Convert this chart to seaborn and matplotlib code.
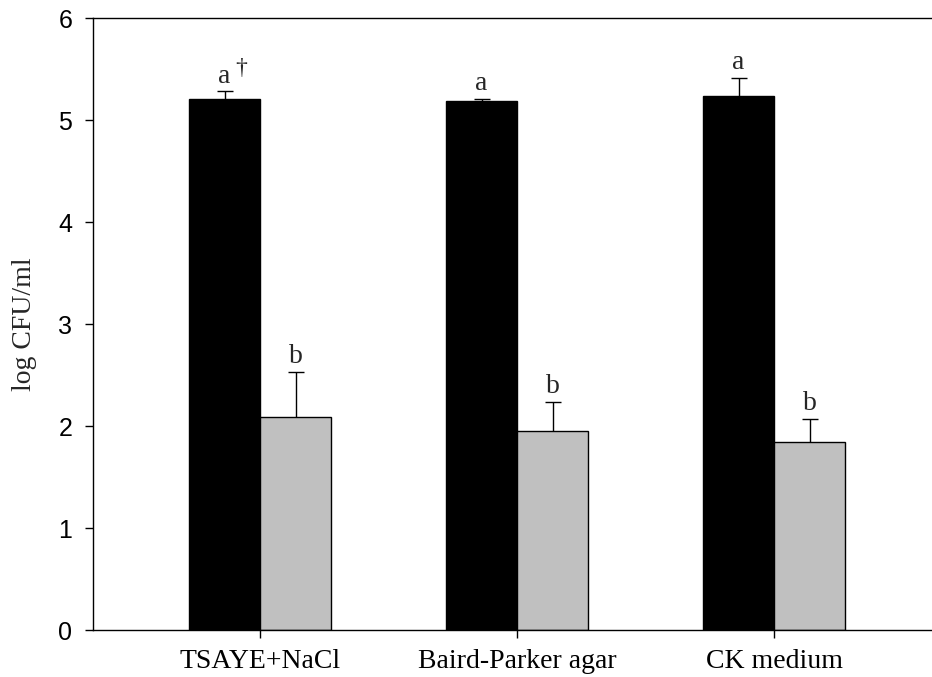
import pandas as pd
import seaborn as sns
import matplotlib.pyplot as plt

# values
media = ["TSAYE+NaCl", "Baird-Parker agar", "CK medium"]
groups = ["Before", "After"]
before_mean = [5.21, 5.19, 5.235]
before_err = [0.07, 0.02, 0.175]
after_mean = [2.09, 1.95, 1.84]
after_err = [0.44, 0.29, 0.23]
letters_before = ["a", "a", "a"]
letters_after = ["b", "b", "b"]

df = pd.DataFrame({
    "medium": media * 2,
    "group": [groups[0]] * 3 + [groups[1]] * 3,
    "value": before_mean + after_mean,
    "err": before_err + after_err,
    "letter": letters_before + letters_after,
})

sns.set_style("ticks")
plt.rcParams["font.family"] = ["Liberation Serif", "DejaVu Serif"]

fig = plt.figure(figsize=(9.32, 6.77), dpi=100)
ax = fig.add_axes([93 / 932, 47 / 677, 861 / 932, 612 / 677])

sns.barplot(data=df, x="medium", y="value", hue="group", order=media,
            hue_order=groups, palette=["#000000", "#c0c0c0"], width=0.553,
            errorbar=None, edgecolor="black", linewidth=1.0, legend=False, ax=ax)

# upward-only error bars and significance letters, taken from the drawn bars
for container, grp in zip(ax.containers, groups):
    sub = df[df["group"] == grp].set_index("medium").loc[media]
    for bar, (_, row) in zip(container, sub.iterrows()):
        cx = bar.get_x() + bar.get_width() / 2
        top = bar.get_height()
        eb = ax.errorbar(cx, top, yerr=[[0], [row["err"]]], fmt="none",
                         ecolor="black", elinewidth=1.0, capsize=6,
                         capthick=1.0)
        eb.lines[1][0].set_visible(False)  # drop the lower cap
        ax.annotate(row["letter"], (cx, top + row["err"]), xytext=(0, 2),
                    textcoords="offset points", ha="center", va="bottom",
                    fontsize=20)

# dagger next to the first letter
first = ax.containers[0][0]
ax.annotate("\u2020", (first.get_x() + first.get_width() / 2,
                       first.get_height() + before_err[0]),
            xytext=(12, 9), textcoords="offset points", ha="center",
            va="bottom", fontsize=17)

ax.set_xlim(-0.65, 2.7)
ax.set_ylim(0, 6)
ax.set_yticks(range(0, 7))
ax.set_xlabel("")
ax.set_ylabel("log CFU/ml", fontsize=20, labelpad=15)
for lab in ax.get_yticklabels():
    lab.set_family("Liberation Sans")
    lab.set_fontsize(18)
for lab in ax.get_xticklabels():
    lab.set_fontsize(20)

for side in ["left", "bottom", "top"]:
    ax.spines[side].set_visible(True)
    ax.spines[side].set_linewidth(1.0)
    ax.spines[side].set_color("black")
ax.spines["right"].set_visible(False)
ax.tick_params(axis="both", direction="out", length=6, width=1.0,
               colors="black")
ax.tick_params(axis="y", pad=9)
ax.tick_params(axis="x", pad=8)

fig.savefig("out.png", dpi=100)
